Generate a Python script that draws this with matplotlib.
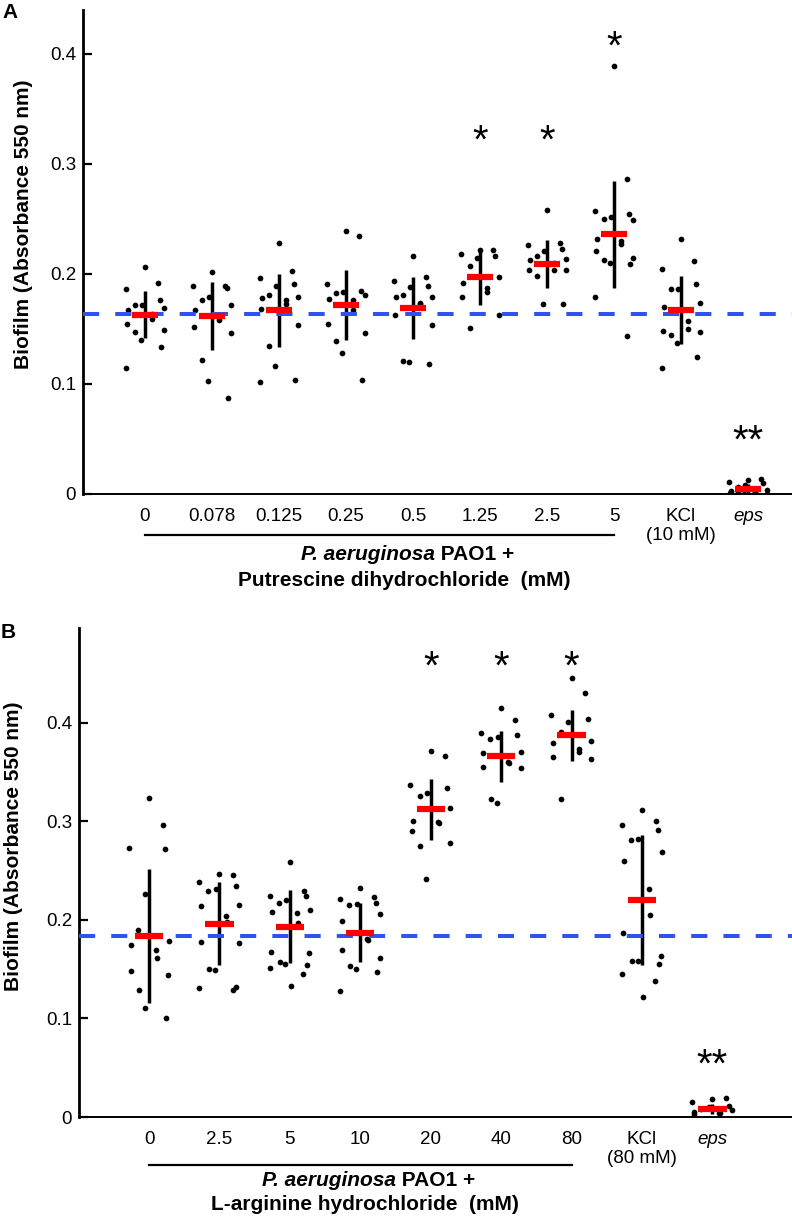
"""Biofilm formation of P. aeruginosa PAO1 with putrescine (A) and L-arginine (B)."""

import matplotlib

matplotlib.use("Agg")
import matplotlib.pyplot as plt
import numpy as np
from matplotlib.transforms import blended_transform_factory

plt.rcParams["font.family"] = ["Liberation Sans", "DejaVu Sans"]

# ---- panel A: putrescine dihydrochloride ----
PUT_LABELS = ["0", "0.078", "0.125", "0.25", "0.5", "1.25", "2.5", "5", "KCl\n(10 mM)", "eps"]
PUT_VALUES = [
    [0.206, 0.192, 0.186, 0.176, 0.172, 0.172, 0.169, 0.167, 0.164, 0.159, 0.155, 0.149, 0.147, 0.140, 0.134, 0.115],
    [0.202, 0.189, 0.189, 0.187, 0.179, 0.176, 0.172, 0.167, 0.160, 0.158, 0.152, 0.146, 0.122, 0.103, 0.087],
    [0.228, 0.203, 0.196, 0.191, 0.189, 0.181, 0.179, 0.178, 0.176, 0.173, 0.168, 0.154, 0.135, 0.116, 0.104, 0.102],
    [0.239, 0.235, 0.191, 0.185, 0.184, 0.183, 0.181, 0.177, 0.176, 0.167, 0.155, 0.146, 0.139, 0.128, 0.104],
    [0.216, 0.197, 0.194, 0.189, 0.188, 0.181, 0.179, 0.179, 0.174, 0.173, 0.163, 0.154, 0.121, 0.120, 0.118],
    [0.222, 0.222, 0.218, 0.216, 0.215, 0.207, 0.197, 0.192, 0.187, 0.184, 0.179, 0.163, 0.151],
    [0.258, 0.228, 0.226, 0.223, 0.221, 0.216, 0.214, 0.213, 0.210, 0.204, 0.204, 0.204, 0.198, 0.173, 0.173],
    [0.389, 0.286, 0.257, 0.255, 0.252, 0.250, 0.249, 0.232, 0.230, 0.227, 0.221, 0.215, 0.213, 0.210, 0.209, 0.179, 0.144],
    [0.232, 0.212, 0.205, 0.191, 0.186, 0.186, 0.174, 0.170, 0.157, 0.150, 0.148, 0.147, 0.145, 0.137, 0.125, 0.115],
    [0.013, 0.014, 0.011, 0.010, 0.008, 0.006, 0.004, 0.003, 0.002, 0.001, 0.001, 0.000, 0.002, 0.004],
]
PUT_MEANS = [0.163, 0.162, 0.167, 0.172, 0.169, 0.197, 0.209, 0.236, 0.167, 0.005]
PUT_SD = [0.0215, 0.031, 0.033, 0.032, 0.028, 0.025, 0.022, 0.049, 0.031, 0.004]
PUT_STARS = ["", "", "", "", "", "*", "*", "*", "", "**"]
PUT_STAR_Y = [0, 0, 0, 0, 0, 0.33, 0.33, 0.416, 0, 0.058]
PUT_CONTROL = 0.1636

# ---- panel B: L-arginine hydrochloride ----
ARG_LABELS = ["0", "2.5", "5", "10", "20", "40", "80", "KCl\n(80 mM)", "eps"]
ARG_VALUES = [
    [0.324, 0.296, 0.273, 0.272, 0.226, 0.190, 0.179, 0.174, 0.169, 0.161, 0.148, 0.144, 0.129, 0.111, 0.100],
    [0.246, 0.245, 0.238, 0.234, 0.231, 0.229, 0.215, 0.214, 0.204, 0.198, 0.178, 0.176, 0.150, 0.149, 0.132, 0.131, 0.129],
    [0.259, 0.229, 0.224, 0.224, 0.220, 0.217, 0.210, 0.208, 0.207, 0.197, 0.167, 0.166, 0.157, 0.155, 0.154, 0.151, 0.145, 0.133],
    [0.232, 0.223, 0.221, 0.217, 0.216, 0.215, 0.206, 0.199, 0.181, 0.180, 0.169, 0.161, 0.153, 0.150, 0.147, 0.128],
    [0.371, 0.366, 0.337, 0.334, 0.329, 0.326, 0.313, 0.300, 0.299, 0.298, 0.290, 0.278, 0.275, 0.241],
    [0.415, 0.403, 0.390, 0.387, 0.385, 0.383, 0.370, 0.369, 0.360, 0.359, 0.355, 0.354, 0.323, 0.319],
    [0.445, 0.430, 0.408, 0.404, 0.401, 0.391, 0.381, 0.379, 0.373, 0.370, 0.365, 0.363, 0.323],
    [0.311, 0.300, 0.296, 0.291, 0.282, 0.281, 0.269, 0.260, 0.231, 0.205, 0.187, 0.163, 0.158, 0.158, 0.155, 0.145, 0.138, 0.122],
    [0.018, 0.019, 0.015, 0.011, 0.010, 0.008, 0.007, 0.005, 0.004, 0.004, 0.003],
]
ARG_MEANS = [0.184, 0.196, 0.193, 0.187, 0.312, 0.366, 0.387, 0.220, 0.008]
ARG_SD = [0.068, 0.042, 0.037, 0.030, 0.031, 0.026, 0.026, 0.066, 0.005]
ARG_STARS = ["", "", "", "", "*", "*", "*", "", "**"]
ARG_STAR_Y = [0, 0, 0, 0, 0.467, 0.467, 0.467, 0, 0.063]
ARG_CONTROL = 0.1838

W, H = 792, 1221
BLUE = "#2f52f0"


def fy(px):
    """Figure fraction from a pixel row counted from the top."""
    return 1 - px / H


def draw_panel(ax, labels, values, means, sds, stars, star_y, control, ymax):
    for i, vals in enumerate(values):
        vals = np.asarray(vals)
        jitter = 0.29 * np.sin(np.arange(len(vals)) * 2.39996)
        ax.scatter(i + jitter, vals, s=17, color="black", linewidths=0, zorder=3)
        ax.vlines(i, means[i] - sds[i], means[i] + sds[i], color="black", lw=2.5, zorder=2)
        ax.hlines(means[i], i - 0.2, i + 0.2, color="#ff0000", lw=4.5, zorder=5)
        if stars[i]:
            ax.annotate(stars[i], (i, star_y[i]), xytext=(0, -8),
                        textcoords="offset points", ha="center", va="center",
                        fontsize=29)
    ax.axhline(control, color=BLUE, lw=2.9, linestyle=(0, (4, 4)), zorder=4)

    ax.set_ylim(0, ymax)
    ax.set_yticks([0, 0.1, 0.2, 0.3, 0.4])
    ax.set_yticklabels(["0", "0.1", "0.2", "0.3", "0.4"])
    ax.set_xticks(range(len(labels)))
    ax.set_xticklabels(labels)
    ax.get_xticklabels()[-1].set_style("italic")

    for side in ("top", "right"):
        ax.spines[side].set_visible(False)
    ax.spines["left"].set_linewidth(2.0)
    ax.spines["bottom"].set_linewidth(1.4)
    ax.tick_params(axis="y", direction="in", length=6.5, width=1.6, labelsize=13.5, pad=5)
    ax.tick_params(axis="x", length=0, labelsize=13.5, pad=10)


def draw_caption(ax, n_conc, line_px, split_x, row1_px, center_x, row2_px, compound):
    trans = blended_transform_factory(ax.transData, ax.figure.transFigure)
    ax.plot([0, n_conc - 1], [fy(line_px)] * 2, transform=trans, color="black",
            lw=1.6, clip_on=False)
    t1 = ax.text(split_x, fy(row1_px), "P. aeruginosa", transform=trans, ha="right",
                 va="center", fontsize=15, fontweight="bold", style="italic")
    ax.annotate(" PAO1 +", xy=(1, 0), xycoords=t1, ha="left", va="bottom",
                fontsize=15, fontweight="bold")
    ax.text(center_x, fy(row2_px), compound, transform=trans, ha="center", va="center",
            fontsize=15, fontweight="bold")


def main() -> None:
    fig = plt.figure(figsize=(W / 100, H / 100), dpi=100)

    ax_a = fig.add_axes([83 / W, fy(494), 1 - 83 / W, (494 - 10) / H])
    draw_panel(ax_a, PUT_LABELS, PUT_VALUES, PUT_MEANS, PUT_SD, PUT_STARS, PUT_STAR_Y,
               PUT_CONTROL, 0.44)
    ax_a.set_xlim(-0.925, 9.657)
    draw_caption(ax_a, len(PUT_LABELS) - 2, 535, 4.33, 555, 3.87, 581,
                 "Putrescine dihydrochloride  (mM)")

    ax_b = fig.add_axes([79 / W, fy(1117), 1 - 79 / W, (1117 - 628) / H])
    draw_panel(ax_b, ARG_LABELS, ARG_VALUES, ARG_MEANS, ARG_SD, ARG_STARS, ARG_STAR_Y,
               ARG_CONTROL, 0.496)
    ax_b.set_xlim(-0.994, 9.13)
    draw_caption(ax_b, len(ARG_LABELS) - 2, 1165, 3.51, 1180, 3.07, 1205,
                 "L-arginine hydrochloride  (mM)")

    ylabel = "Biofilm (Absorbance 550 nm)"
    fig.text(23.5 / W, fy(224), ylabel, rotation=90, ha="center", va="center",
             fontsize=15, fontweight="bold")
    fig.text(14 / W, fy(846), ylabel, rotation=90, ha="center", va="center",
             fontsize=15, fontweight="bold")
    fig.text(10 / W, fy(12), "A", ha="center", va="center", fontsize=15, fontweight="bold")
    fig.text(8 / W, fy(633), "B", ha="center", va="center", fontsize=15, fontweight="bold")

    fig.savefig("out.png", dpi=100)


if __name__ == "__main__":
    main()
